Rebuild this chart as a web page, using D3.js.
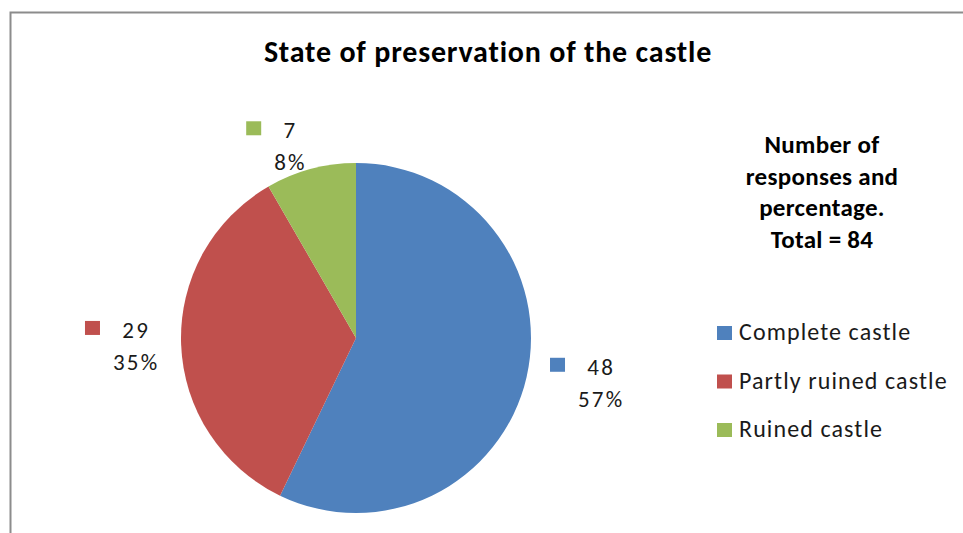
<!DOCTYPE html>
<html>
<head>
<meta charset="utf-8">
<script src="https://cdn.jsdelivr.net/npm/d3@7"></script>
<style>
  html, body { margin: 0; padding: 0; background: #fff; }
  svg { display: block; font-family: Carlito, Calibri, Lato, sans-serif; }
</style>
</head>
<body>
<svg id="chart" width="963" height="533"></svg>
<script>
// Survey: state of preservation of the castle (84 responses)
const categories = ["Complete castle", "Partly ruined castle", "Ruined castle"];
const responses = [48, 29, 7];
const colors = ["#4F81BD", "#C0504D", "#9BBB59"];
const chartTitle = "State of preservation of the castle";
const noteLines = ["Number of", "responses and", "percentage.", "Total = 84"];

const W = 963, H = 533;
const svg = d3.select("#chart");

// chart frame
svg.append("rect")
  .attr("x", 10.5).attr("y", 12.5)
  .attr("width", W + 10).attr("height", H + 10)
  .attr("fill", "none").attr("stroke", "#8c8c8c").attr("stroke-width", 2);

// title
svg.append("text")
  .attr("x", 488).attr("y", 62)
  .attr("text-anchor", "middle")
  .attr("font-size", 30).attr("font-weight", "bold").attr("fill", "#000")
  .attr("letter-spacing", 0.8)
  .text(chartTitle);

// pie
const cx = 356, cy = 338, R = 175;
const total = d3.sum(responses);
const data = categories.map((c, i) => ({ name: c, value: responses[i], color: colors[i] }));
const pie = d3.pie().value(d => d.value).sort(null);
const arcs = pie(data);
const arc = d3.arc().innerRadius(0).outerRadius(R);

const g = svg.append("g").attr("transform", `translate(${cx},${cy})`);
g.selectAll("path").data(arcs).join("path")
  .attr("d", arc)
  .attr("fill", d => d.data.color);

// data labels: legend key + count, then percentage, placed just outside each slice
const labelSize = 23, labelSpacing = 2.2, lineGap = 32, keySize = 15, keyGap = 28, pad = 24;
const pct = d3.format(".0%");
arcs.forEach(a => {
  const mid = (a.startAngle + a.endAngle) / 2;
  const s = Math.sin(mid), c = Math.cos(mid);
  const px = cx + (R + pad) * s, py = cy - (R + pad) * c;

  const lg = svg.append("g");
  const mk = t => lg.append("text").attr("font-size", labelSize).attr("fill", "#1a1a1a")
    .attr("letter-spacing", labelSpacing).attr("text-anchor", "middle").text(t);
  const t1 = mk(a.data.value);
  const t2 = mk(pct(a.data.value / total));
  const tw = Math.max(t1.node().getComputedTextLength(), t2.node().getComputedTextLength()) - labelSpacing;
  const bw = keyGap + tw, bh = lineGap + 17;

  // box sits beside the anchor on the slice's side, vertically centred on it
  let left;
  if (s < -0.1) left = px - bw;
  else if (s > 0.1) left = px;
  else left = px - bw / 2;
  const top = py - bh / 2;

  const tx = left + keyGap + tw / 2 + labelSpacing / 2;
  t1.attr("x", tx).attr("y", top + 17);
  t2.attr("x", tx).attr("y", top + 17 + lineGap);
  lg.append("rect").attr("x", left).attr("y", top)
    .attr("width", keySize).attr("height", keySize - 1)
    .attr("fill", a.data.color);
});

// side note
svg.append("text")
  .attr("font-size", 25).attr("font-weight", "bold").attr("fill", "#000")
  .attr("text-anchor", "middle").attr("letter-spacing", 0.3)
  .selectAll("tspan").data(noteLines).join("tspan")
  .attr("x", 822).attr("y", (d, i) => 153 + i * 31.7)
  .text(d => d);

// legend
const legend = svg.append("g").attr("transform", "translate(717,326)");
const rows = legend.selectAll("g").data(data).join("g")
  .attr("transform", (d, i) => `translate(0,${i * 48.5})`);
rows.append("rect").attr("width", keySize).attr("height", keySize - 1)
  .attr("fill", d => d.color);
rows.append("text").attr("x", 22).attr("y", 14)
  .attr("font-size", 24).attr("letter-spacing", 1.1).attr("fill", "#1a1a1a")
  .text(d => d.name);
</script>
</body>
</html>
